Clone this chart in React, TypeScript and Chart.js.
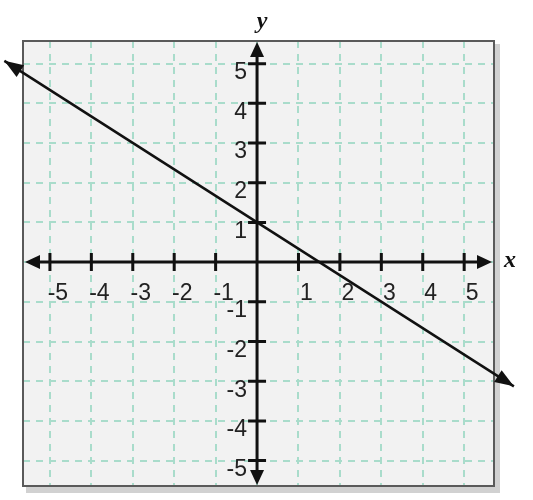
import { useEffect, useRef } from "react"
import { Chart, registerables, type ChartConfiguration, type Plugin } from "chart.js"

Chart.register(...registerables)

// axis extents (data units) and tick values
const X_RANGE = [-5.65, 5.72]
const Y_RANGE = [-5.64, 5.57]
const X_TICKS = [-5, -4, -3, -2, -1, 1, 2, 3, 4, 5]
const Y_TICKS = [-5, -4, -3, -2, -1, 1, 2, 3, 4, 5]

// the plotted line, read at its two arrow tips
const LINE_X = [-6.1, 6.2]
const LINE_Y = [5.07, -3.13]

const TICK_FONT = '23px "Liberation Sans", Arial, sans-serif'

function arrowHead(ctx: CanvasRenderingContext2D, x: number, y: number, angle: number, len: number, half: number) {
  ctx.save()
  ctx.translate(x, y)
  ctx.rotate(angle)
  ctx.beginPath()
  ctx.moveTo(0, 0)
  ctx.lineTo(-len, -half)
  ctx.lineTo(-len, half)
  ctx.closePath()
  ctx.fill()
  ctx.restore()
}

const graphPaper: Plugin<"scatter"> = {
  id: "graphPaper",
  beforeDraw(chart) {
    const { ctx, chartArea: a } = chart
    ctx.save()
    // drop shadow + paper
    ctx.fillStyle = "rgba(0, 0, 0, 0.18)"
    ctx.fillRect(a.left + 3, a.top + 3, a.width + 3, a.height + 4)
    ctx.fillStyle = "#f2f2f2"
    ctx.fillRect(a.left, a.top, a.width, a.height)
    ctx.restore()
  },
  beforeDatasetsDraw(chart) {
    const { ctx, chartArea: a } = chart
    const xs = chart.scales.x
    const ys = chart.scales.y
    const x0 = xs.getPixelForValue(0)
    const y0 = ys.getPixelForValue(0)

    ctx.save()
    ctx.strokeStyle = "#5a5a5a"
    ctx.lineWidth = 2
    ctx.strokeRect(a.left, a.top, a.width, a.height)

    // axes
    ctx.strokeStyle = "#111"
    ctx.fillStyle = "#111"
    ctx.lineWidth = 3
    ctx.beginPath()
    ctx.moveTo(a.left + 8, y0)
    ctx.lineTo(a.right - 8, y0)
    ctx.moveTo(x0, a.top + 8)
    ctx.lineTo(x0, a.bottom - 8)
    ctx.stroke()

    ctx.beginPath()
    X_TICKS.forEach((v) => {
      const px = xs.getPixelForValue(v)
      ctx.moveTo(px, y0 - 9)
      ctx.lineTo(px, y0 + 9)
    })
    Y_TICKS.forEach((v) => {
      const py = ys.getPixelForValue(v)
      ctx.moveTo(x0 - 9, py)
      ctx.lineTo(x0 + 9, py)
    })
    ctx.stroke()

    arrowHead(ctx, a.left + 2, y0, Math.PI, 15, 7)
    arrowHead(ctx, a.right - 2, y0, 0, 15, 7)
    arrowHead(ctx, x0, a.top + 1, -Math.PI / 2, 15, 7)
    arrowHead(ctx, x0, a.bottom - 1, Math.PI / 2, 15, 7)

    // y tick labels, left of the axis and a little below each tick
    ctx.fillStyle = "#222"
    ctx.font = TICK_FONT
    ctx.textAlign = "right"
    ctx.textBaseline = "middle"
    Y_TICKS.forEach((v) => {
      ctx.fillText(String(v), x0 - 10, ys.getPixelForValue(v) + 9)
    })

    // axis names
    ctx.fillStyle = "#111"
    ctx.font = 'italic bold 24px "Liberation Serif", "DejaVu Serif", serif'
    ctx.textAlign = "center"
    ctx.fillText("x", a.right + 16, y0 - 1)
    ctx.fillText("y", x0 + 5, a.top - 19)
    ctx.restore()
  },
  afterDatasetsDraw(chart) {
    const { ctx } = chart
    const pts = chart.getDatasetMeta(0).data
    if (pts.length < 2) return
    const p0 = pts[0]
    const p1 = pts[pts.length - 1]
    const ang = Math.atan2(p1.y - p0.y, p1.x - p0.x)
    ctx.save()
    ctx.fillStyle = "#111"
    arrowHead(ctx, p0.x, p0.y, ang + Math.PI, 19, 7)
    arrowHead(ctx, p1.x, p1.y, ang, 19, 7)
    ctx.restore()
  },
}

export default function App() {
  const chartRef = useRef<HTMLCanvasElement>(null)
  const chartInstance = useRef<Chart | null>(null)

  useEffect(() => {
    if (!chartRef.current) return
    const ctx = chartRef.current.getContext("2d")
    if (!ctx) return

    if (chartInstance.current) {
      chartInstance.current.destroy()
    }

    const gridColor = "#a9dccb"

    const config: ChartConfiguration<"scatter"> = {
      type: "scatter",
      data: {
        datasets: [
          {
            data: LINE_X.map((x, i) => ({ x, y: LINE_Y[i] })),
            showLine: true,
            borderColor: "#111",
            borderWidth: 2.5,
            pointRadius: 0,
            clip: false,
          },
        ],
      },
      options: {
        responsive: true,
        maintainAspectRatio: false,
        animation: false,
        layout: { padding: { left: 23, right: 39, top: 41, bottom: 14 } },
        plugins: {
          legend: { display: false },
          tooltip: { enabled: false },
        },
        scales: {
          x: {
            type: "linear",
            position: { y: 0 },
            min: X_RANGE[0],
            max: X_RANGE[1],
            grid: { color: gridColor, lineWidth: 2, drawTicks: false },
            border: { display: false, dash: [7, 6] },
            ticks: {
              stepSize: 1,
              includeBounds: false,
              autoSkip: false,
              maxRotation: 0,
              padding: 18,
              labelOffset: 8,
              color: "#222",
              font: { family: '"Liberation Sans", Arial, sans-serif', size: 23 },
              callback: (value) => (X_TICKS.includes(Number(value)) ? String(value) : ""),
            },
          },
          y: {
            type: "linear",
            position: { x: 0 },
            min: Y_RANGE[0],
            max: Y_RANGE[1],
            grid: { color: gridColor, lineWidth: 2, drawTicks: false },
            border: { display: false, dash: [7, 6] },
            ticks: {
              stepSize: 1,
              includeBounds: false,
              display: false,
            },
          },
        },
      },
      plugins: [graphPaper],
    }

    chartInstance.current = new Chart(ctx, config)

    return () => {
      if (chartInstance.current) {
        chartInstance.current.destroy()
        chartInstance.current = null
      }
    }
  }, [])

  return (
    <div style={{ position: "absolute", left: 0, top: 0, width: 533, height: 500, background: "#fff" }}>
      <canvas ref={chartRef} />
    </div>
  )
}
